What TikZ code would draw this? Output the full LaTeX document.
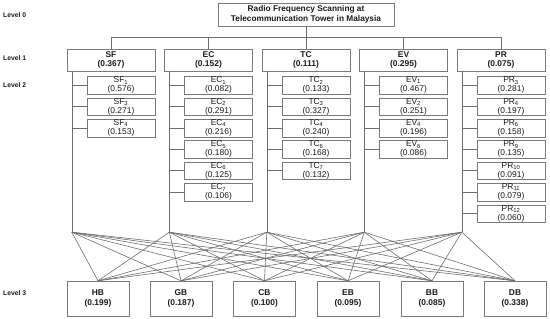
\documentclass[tikz,border=0pt]{standalone}
\usepackage{fontspec}
\setmainfont{Liberation Sans}
\usepackage{xcolor}
\definecolor{ahpline}{HTML}{6E6E6E}
\definecolor{ahpbox}{HTML}{7A7A7A}
\definecolor{ahptext}{HTML}{1A1A1A}
\usepackage{tikz}
\usetikzlibrary{positioning}

\begin{document}
\begin{tikzpicture}[
  x=1pt, y=-1pt,
  goal/.style={draw=ahpbox, fill=white, minimum width=176pt, minimum height=23pt,
               inner sep=0pt, align=center, text=ahptext,
               font=\fontsize{8.3}{10.5}\selectfont\bfseries},
  crit/.style={draw=ahpbox, fill=white, minimum width=88pt, minimum height=22pt,
               inner sep=0pt, align=center, text=ahptext,
               font=\fontsize{8.4}{9.3}\selectfont\bfseries},
  sub/.style={draw=ahpbox, fill=white, minimum width=68pt, minimum height=17.5pt,
              inner sep=0pt, align=center, text=ahptext,
              font=\fontsize{8.4}{9}\selectfont},
  alt/.style={draw=ahpbox, fill=white, minimum width=62pt, minimum height=35pt,
              inner sep=0pt, align=center, text=ahptext,
              font=\fontsize{8.4}{10.5}\selectfont\bfseries},
  lvl/.style={anchor=west, inner sep=0pt, text=ahptext,
              font=\fontsize{6.8}{8}\selectfont\bfseries},
  link/.style={draw=ahpline, line width=0.6pt},
  node distance=3.5pt
]
  \useasboundingbox (0,0) rectangle (550,319);

  % level labels
  \node[lvl] (lv0) at (3,15) {Level 0};
  \node[lvl] (lv1) at (3,58) {Level 1};
  \node[lvl] (lv2) at (3,85) {Level 2};
  \node[lvl] (lv3) at (3,293) {Level 3};

  % goal and criteria
  \node[goal] (goal) at (306,14.5) {Radio Frequency Scanning at\\Telecommunication Tower in Malaysia};
  \node[crit] (sf) at (111,60) {SF\\(0.367)};
  \node[crit] (ec) at (208.5,60) {EC\\(0.152)};
  \node[crit] (tc) at (306,60) {TC\\(0.111)};
  \node[crit] (ev) at (403.5,60) {EV\\(0.295)};
  \node[crit] (pr) at (501,60) {PR\\(0.075)};

  \coordinate (bar) at (306,37);
  \draw[link] (goal.south) -- (bar);
  \draw[link] (sf.north) -- (sf.north |- bar) -- (pr.north |- bar) -- (pr.north);
  \draw[link] (ec.north) -- (ec.north |- bar);
  \draw[link] (tc.north) -- (tc.north |- bar);
  \draw[link] (ev.north) -- (ev.north |- bar);

  % sub-criteria
  \node[sub, below left=5pt and 0pt of sf.south east] (sf1) {SF\textsubscript{1}\\(0.576)};
  \node[sub, below=of sf1] (sf3) {SF\textsubscript{3}\\(0.271)};
  \node[sub, below=of sf3] (sf4) {SF\textsubscript{4}\\(0.153)};

  \node[sub, below left=5pt and 0pt of ec.south east] (ec1) {EC\textsubscript{1}\\(0.082)};
  \node[sub, below=of ec1] (ec2) {EC\textsubscript{2}\\(0.291)};
  \node[sub, below=of ec2] (ec4) {EC\textsubscript{4}\\(0.216)};
  \node[sub, below=of ec4] (ec5) {EC\textsubscript{5}\\(0.180)};
  \node[sub, below=of ec5] (ec6) {EC\textsubscript{6}\\(0.125)};
  \node[sub, below=of ec6] (ec7) {EC\textsubscript{7}\\(0.106)};

  \node[sub, below left=5pt and 0pt of tc.south east] (tc2) {TC\textsubscript{2}\\(0.133)};
  \node[sub, below=of tc2] (tc3) {TC\textsubscript{3}\\(0.327)};
  \node[sub, below=of tc3] (tc4) {TC\textsubscript{4}\\(0.240)};
  \node[sub, below=of tc4] (tc6) {TC\textsubscript{6}\\(0.168)};
  \node[sub, below=of tc6] (tc7) {TC\textsubscript{7}\\(0.132)};

  \node[sub, below left=5pt and 0pt of ev.south east] (ev1) {EV\textsubscript{1}\\(0.467)};
  \node[sub, below=of ev1] (ev2) {EV\textsubscript{2}\\(0.251)};
  \node[sub, below=of ev2] (ev4) {EV\textsubscript{4}\\(0.196)};
  \node[sub, below=of ev4] (ev6) {EV\textsubscript{6}\\(0.086)};

  \node[sub, below left=5pt and 0pt of pr.south east] (pr3) {PR\textsubscript{3}\\(0.281)};
  \node[sub, below=of pr3] (pr4) {PR\textsubscript{4}\\(0.197)};
  \node[sub, below=of pr4] (pr6) {PR\textsubscript{6}\\(0.158)};
  \node[sub, below=of pr6] (pr9) {PR\textsubscript{9}\\(0.135)};
  \node[sub, below=of pr9] (pr10) {PR\textsubscript{10}\\(0.091)};
  \node[sub, below=of pr10] (pr11) {PR\textsubscript{11}\\(0.079)};
  \node[sub, below=of pr11] (pr12) {PR\textsubscript{12}\\(0.060)};

  % alternatives
  \node[alt] (hb) at (98,298.5) {HB\\(0.199)};
  \node[alt] (gb) at (181,298.5) {GB\\(0.187)};
  \node[alt] (cb) at (264.5,298.5) {CB\\(0.100)};
  \node[alt] (eb) at (348,298.5) {EB\\(0.095)};
  \node[alt] (bb) at (432,298.5) {BB\\(0.085)};
  \node[alt] (db) at (515,298.5) {DB\\(0.338)};

  % group trunks
  \foreach \g in {sf,ec,tc,ev,pr} {
    \path ([xshift=5pt]\g.south west) coordinate (\g top) ++(0,161) coordinate (\g bot);
    \draw[link] (\g top) -- (\g bot);
  }
  \foreach \c in {sf1,sf3,sf4} \draw[link] (\c.west) -- (\c.west -| sfbot);
  \foreach \c in {ec1,ec2,ec4,ec5,ec6,ec7} \draw[link] (\c.west) -- (\c.west -| ecbot);
  \foreach \c in {tc2,tc3,tc4,tc6,tc7} \draw[link] (\c.west) -- (\c.west -| tcbot);
  \foreach \c in {ev1,ev2,ev4,ev6} \draw[link] (\c.west) -- (\c.west -| evbot);
  \foreach \c in {pr3,pr4,pr6,pr9,pr10,pr11,pr12} \draw[link] (\c.west) -- (\c.west -| prbot);

  % criteria to alternatives
  \foreach \g in {sf,ec,tc,ev,pr}
    \foreach \b in {hb,gb,cb,eb,bb,db}
      \draw[link] (\g bot) -- (\b.north);
\end{tikzpicture}
\end{document}
